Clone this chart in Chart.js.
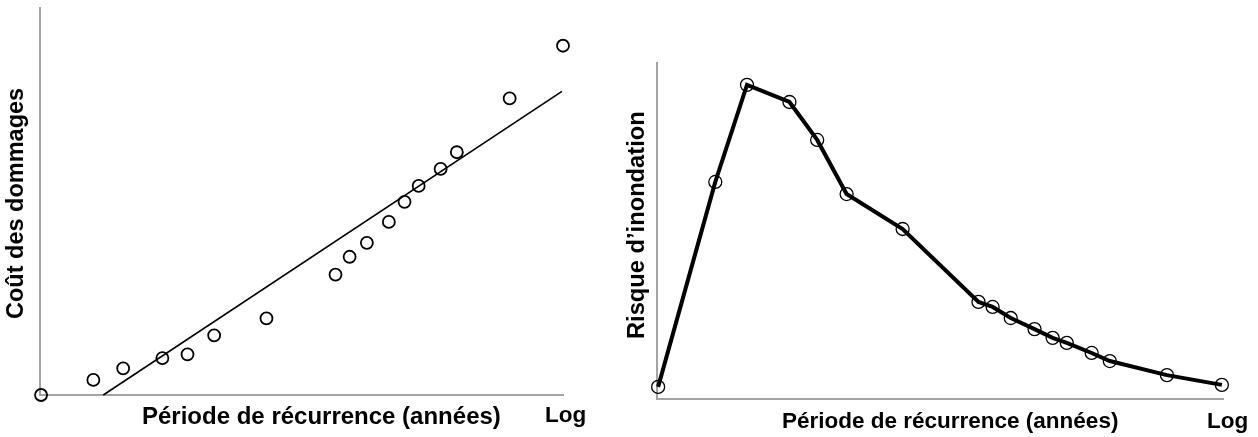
<!DOCTYPE html>
<html>
<head>
<meta charset="utf-8">
<script src="https://cdn.jsdelivr.net/npm/chart.js@4"></script>
<style>
  body { margin: 0; background: #fff; }
  #wrap { position: relative; width: 1258px; height: 437px; overflow: hidden; }
  .box { position: absolute; top: 0; height: 437px; }
  .lbl { position: absolute; font-family: "Liberation Sans", Arial, sans-serif; font-weight: bold; font-size: 23px; color: #000; white-space: nowrap; line-height: 1; }
  .rot { transform-origin: 0 0; transform: rotate(-90deg); }
</style>
</head>
<body>
<div id="wrap">
  <div class="box" style="left:0;width:620px"><canvas id="cout"></canvas></div>
  <div class="box" style="left:620px;width:638px"><canvas id="risque"></canvas></div>

  <div class="lbl rot" style="left:4px;top:319px;font-size:23.5px">Coût des dommages</div>
  <div class="lbl" style="left:142px;top:404px;font-size:24px">Période de récurrence (années)</div>
  <div class="lbl" style="left:545px;top:404px;font-size:22.5px">Log</div>

  <div class="lbl rot" style="left:625px;top:339px;font-size:23.7px">Risque d’inondation</div>
  <div class="lbl" style="left:782px;top:410px;font-size:22.5px">Période de récurrence (années)</div>
  <div class="lbl" style="left:1207px;top:410px;font-size:22.5px">Log</div>
</div>

<script>
// left chart: damage cost vs return period (log)
var coutX = [0.2, 10.2, 15.9, 23.4, 28.2, 33.3, 43.3, 56.5, 59.2, 62.5, 66.7, 69.7, 72.4, 76.6, 79.7, 89.8, 100]
var coutY = [0, 3.9, 6.9, 9.5, 10.5, 15.4, 19.8, 31.1, 35.7, 39.3, 44.7, 49.9, 54.0, 58.4, 62.7, 76.6, 90.2]
var trendX = [12.1, 99.8]
var trendY = [0, 78.4]

// right chart: flood risk vs return period (log)
var risqueX = [0.2, 10.3, 15.9, 23.4, 28.3, 33.5, 43.4, 56.8, 59.3, 62.5, 66.7, 69.9, 72.4, 76.8, 80.0, 90.1, 99.8]
var risqueY = [3.6, 64.6, 93.5, 88.4, 77.1, 61.0, 50.6, 28.9, 27.4, 24.1, 20.8, 18.2, 16.7, 13.7, 11.3, 7.1, 4.2]

function pts(xs, ys) {
  return xs.map(function(x, i) { return { x: x, y: ys[i] } })
}

function axes() {
  var ax = {
    type: 'linear', min: 0, max: 100,
    ticks: { display: false },
    grid: { display: false, drawTicks: false },
    border: { display: true, color: '#a3a3a3', width: 2 }
  }
  return { x: Object.assign({}, ax), y: Object.assign({}, ax) }
}

function opts(pad) {
  return {
    responsive: true,
    maintainAspectRatio: false,
    animation: false,
    layout: { padding: pad },
    plugins: { legend: { display: false }, tooltip: { enabled: false } },
    scales: axes()
  }
}

new Chart(document.getElementById('cout'), {
  type: 'scatter',
  data: {
    datasets: [
      {
        data: pts(trendX, trendY),
        showLine: true,
        borderColor: '#000',
        borderWidth: 1.6,
        pointRadius: 0,
        clip: false
      },
      {
        data: pts(coutX, coutY),
        pointRadius: 6,
        pointBorderWidth: 1.8,
        pointBorderColor: '#000',
        pointBackgroundColor: 'rgba(255,255,255,0)',
        clip: false
      }
    ]
  },
  options: opts({ left: 40, top: 6, right: 57, bottom: 42 })
})

new Chart(document.getElementById('risque'), {
  type: 'scatter',
  data: {
    datasets: [
      {
        data: pts(risqueX, risqueY),
        showLine: true,
        borderColor: '#000',
        borderWidth: 4,
        pointRadius: 6.5,
        pointBorderWidth: 1.3,
        pointBorderColor: '#000',
        pointBackgroundColor: 'rgba(255,255,255,0)',
        clip: false
      }
    ]
  },
  options: opts({ left: 37, top: 63, right: 35, bottom: 38 })
})
</script>
</body>
</html>
